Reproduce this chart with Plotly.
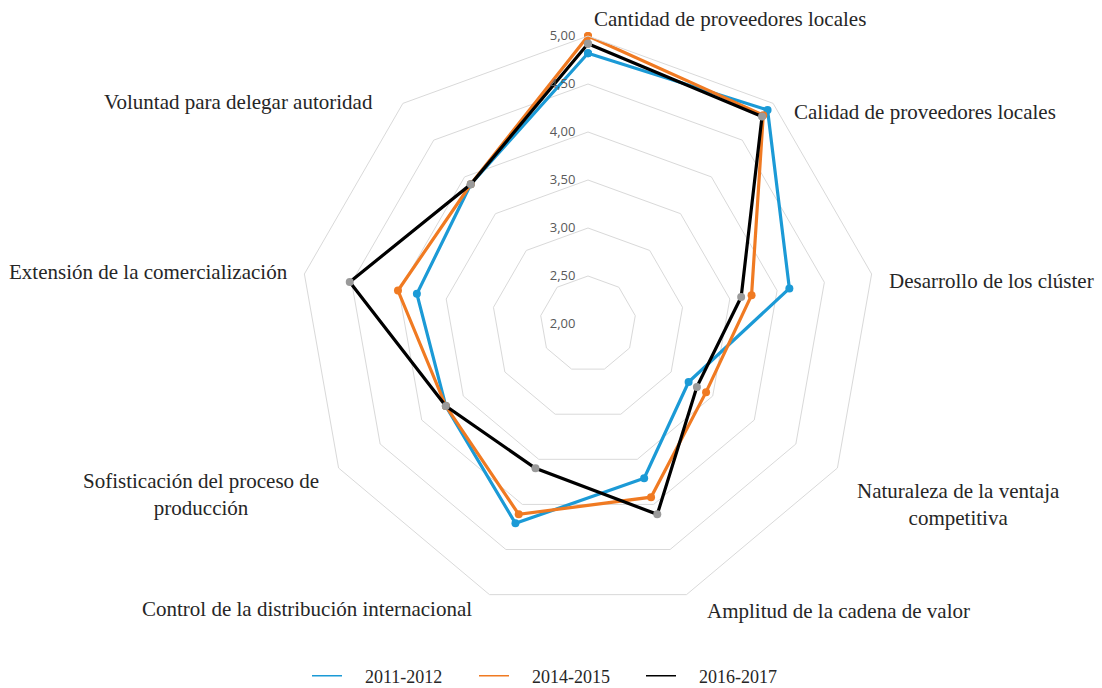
import plotly.graph_objects as go

categories = [
    "Cantidad de proveedores locales",
    "Calidad de proveedores locales",
    "Desarrollo de los clúster",
    "Naturaleza de la ventaja competitiva",
    "Amplitud de la cadena de valor",
    "Control de la distribución internacional",
    "Sofisticación del proceso de producción",
    "Extensión de la comercialización",
    "Voluntad para delegar autoridad",
]
series_names = ["2011-2012", "2014-2015", "2016-2017"]
values_2011_2012 = [4.82, 4.91, 4.13, 3.21, 3.71, 4.21, 3.71, 3.81, 3.90]
values_2014_2015 = [5.00, 4.84, 3.73, 3.42, 3.92, 4.11, 3.71, 4.01, 3.90]
values_2016_2017 = [4.92, 4.82, 3.62, 3.31, 4.11, 3.60, 3.71, 4.52, 3.90]

# category label display text (line breaks) and positions (px in 1102x688 page)
label_text = [
    "Cantidad de proveedores locales",
    "Calidad de proveedores locales",
    "Desarrollo de los clúster",
    "Naturaleza de la ventaja<br>competitiva",
    "Amplitud de la cadena de valor",
    "Control de la distribución internacional",
    "Sofisticación del proceso de<br>producción",
    "Extensión de la comercialización",
    "Voluntad para delegar autoridad",
]
label_pos = [
    (592, 19, "left"), (792, 112, "left"), (1096, 281, "right"),
    (958, 504, "center"), (705, 611, "left"), (474, 609, "right"),
    (201, 494, "center"), (290, 272, "right"), (375, 102, "right"),
]

W, H = 1102, 688
CX, CY, R = 588, 324, 288

colors = ["#1B9AD6", "#F07A22", "#000000"]
marker_colors = ["#1B9AD6", "#F07A22", "#9A9A9A"]
all_values = [values_2011_2012, values_2014_2015, values_2016_2017]

fig = go.Figure()
theta = categories + categories[:1]
for name, vals, col, mcol in zip(series_names, all_values, colors, marker_colors):
    fig.add_trace(go.Scatterpolar(
        r=vals + vals[:1], theta=theta, mode="lines+markers", name=name,
        line=dict(color=col, width=3.2), marker=dict(color=mcol, size=8),
        showlegend=False, hoverinfo="skip",
    ))
# legend-only entries with thin lines
pad = "\u00a0" * 4
for name, col in zip(series_names, colors):
    fig.add_trace(go.Scatterpolar(
        r=[None], theta=[categories[0]], mode="lines", name=pad + name,
        line=dict(color=col, width=1.5), showlegend=True,
    ))

serif = "Liberation Serif"
annotations = []
for txt, (px, py, anchor) in zip(label_text, label_pos):
    annotations.append(dict(
        x=px / W, y=1 - py / H, xref="paper", yref="paper", text=txt,
        showarrow=False, xanchor=anchor, yanchor="middle", align="center",
        font=dict(family=serif, size=21, color="#262626"),
    ))

fig.update_layout(
    width=W, height=H,
    margin=dict(l=0, r=0, t=0, b=0, autoexpand=False),
    paper_bgcolor="white", plot_bgcolor="white",
    separators=",.",
    polar=dict(
        domain=dict(x=[(CX - R) / W, (CX + R) / W], y=[1 - (CY + R) / H, 1 - (CY - R) / H]),
        bgcolor="white",
        gridshape="linear",
        radialaxis=dict(
            range=[2, 5], tick0=2, dtick=0.5, tickformat=".2f", angle=90,
            tickangle=90, ticksuffix="\u00a0\u00a0\u00a0",
            showline=False, ticks="", gridcolor="#D9D9D9", gridwidth=1,
            tickfont=dict(family="Open Sans", size=13, color="#595959"),
            side="counterclockwise",
        ),
        angularaxis=dict(
            rotation=90, direction="clockwise", showticklabels=False, ticks="",
            showgrid=False, showline=True, linecolor="#D9D9D9", linewidth=1,
        ),
    ),
    legend=dict(
        orientation="h", x=307 / W, xanchor="left", y=1 - 676 / H, yanchor="middle",
        font=dict(family=serif, size=18, color="#262626"),
        entrywidth=122, entrywidthmode="pixels", bgcolor="rgba(0,0,0,0)",
    ),
    annotations=annotations,
)

fig.write_html(
    "out.html",
    config={"displayModeBar": False},
    post_script="document.body.style.margin='0';document.body.style.overflow='hidden';",
)
